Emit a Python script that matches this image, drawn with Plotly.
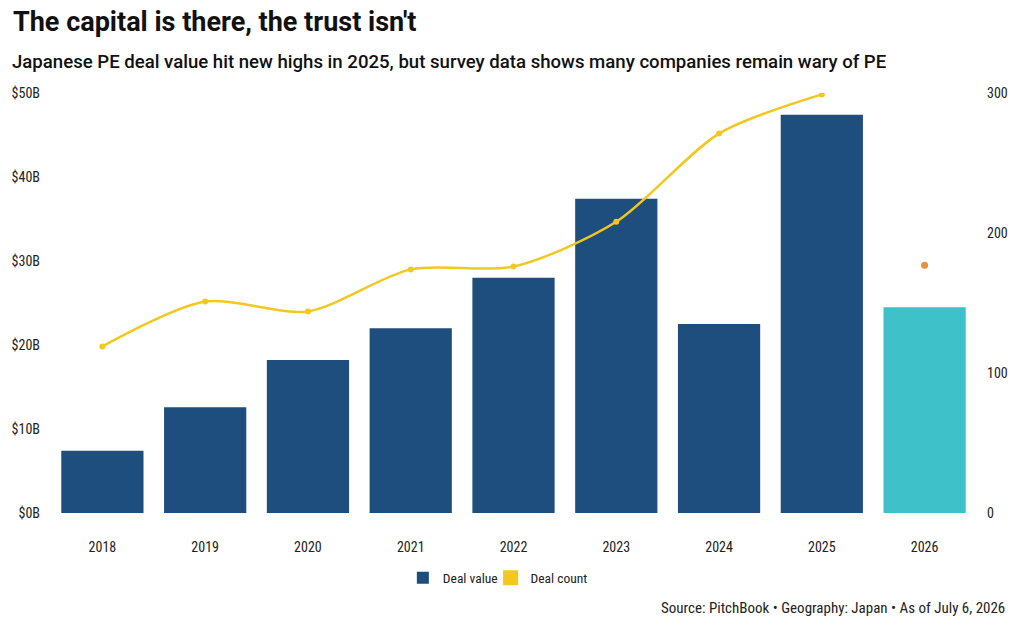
import plotly.graph_objects as go

years = ["2018", "2019", "2020", "2021", "2022", "2023", "2024", "2025", "2026"]
deal_value = [7.4, 12.6, 18.2, 22.0, 28.0, 37.4, 22.5, 47.4, 24.5]
count_years = ["2018", "2019", "2020", "2021", "2022", "2023", "2024", "2025"]
deal_count = [119, 151, 144, 174, 176, 208, 271, 299]
partial_year = ["2026"]
partial_count = [177]

bar_colors = ["#1d4e7e"] * 8 + ["#3fc1c9"]
cond = "Roboto Condensed, Liberation Sans Narrow, Roboto, sans-serif"

fig = go.Figure()
fig.add_trace(go.Bar(x=years, y=deal_value, marker=dict(color=bar_colors, line=dict(width=0)),
                     width=0.8, name="Deal value", yaxis="y", showlegend=True, legend="legend"))
fig.add_trace(go.Scatter(x=count_years, y=deal_count, mode="lines+markers", yaxis="y2",
                         line=dict(color="#f2c81e", width=2.5, shape="spline", smoothing=0.8),
                         marker=dict(size=6, color="#f2c81e"), showlegend=False, name="Deal count"))
fig.add_trace(go.Scatter(x=partial_year, y=partial_count, mode="markers", yaxis="y2",
                         marker=dict(size=7, color="#e8913a"), showlegend=False))
fig.add_trace(go.Scatter(x=[None], y=[None], mode="markers", yaxis="y2", name="Deal count",
                         marker=dict(symbol="square", size=15, color="#f2c81e"), legend="legend2"))

W, H = 1020, 630
l, r, t, b = 50, 42, 93, 117
pw, ph = W - l - r, H - t - b
def px(xp):
    return (xp - l) / pw
def py(yp):
    return (H - b - yp) / ph

leg_common = dict(orientation="h", xanchor="left", y=py(578), yanchor="middle",
                  font=dict(family=cond, size=13.5, color="#222"), itemwidth=30,
                  bgcolor="rgba(0,0,0,0)")

fig.update_layout(
    width=W, height=H,
    margin=dict(l=l, r=r, t=t, b=b),
    plot_bgcolor="white", paper_bgcolor="white",
    font=dict(family=cond, size=14, color="#222"),
    bargap=0.2,
    xaxis=dict(type="category", showgrid=False, showline=False, ticks="", ticklabelstandoff=24,
               tickfont=dict(family=cond, size=14, color="#222")),
    yaxis=dict(range=[0, 50], tickvals=[0, 10, 20, 30, 40, 50],
               ticktext=["$0B", "$10B", "$20B", "$30B", "$40B", "$50B"],
               showgrid=False, zeroline=False, showline=False, ticks="", ticklabelstandoff=10,
               tickfont=dict(family=cond, size=14, color="#222")),
    yaxis2=dict(range=[0, 300], tickvals=[0, 100, 200, 300], overlaying="y", side="right",
                showgrid=False, zeroline=False, showline=False, ticks="", ticklabelstandoff=10,
                tickfont=dict(family=cond, size=14, color="#222")),
    legend=dict(x=px(403), **leg_common),
    legend2=dict(x=px(491), **leg_common),
)

anns = [
    dict(text="The capital is there, the trust isn't", x=px(10), y=py(22), xanchor="left", yanchor="middle",
         font=dict(family="Roboto, sans-serif", size=27, color="#111", weight=700)),
    dict(text="Japanese PE deal value hit new highs in 2025, but survey data shows many companies remain wary of PE",
         x=px(9), y=py(62), xanchor="left", yanchor="middle",
         font=dict(family="Roboto, sans-serif", size=18.6, color="#111", weight=500)),
    dict(text="Source: PitchBook • Geography: Japan • As of July 6, 2026", x=px(1009), y=py(608),
         xanchor="right", yanchor="middle", font=dict(family=cond, size=15, color="#222")),
]
for a in anns:
    a.update(xref="paper", yref="paper", showarrow=False)
fig.update_layout(annotations=anns)

fig.write_html("out.html")
